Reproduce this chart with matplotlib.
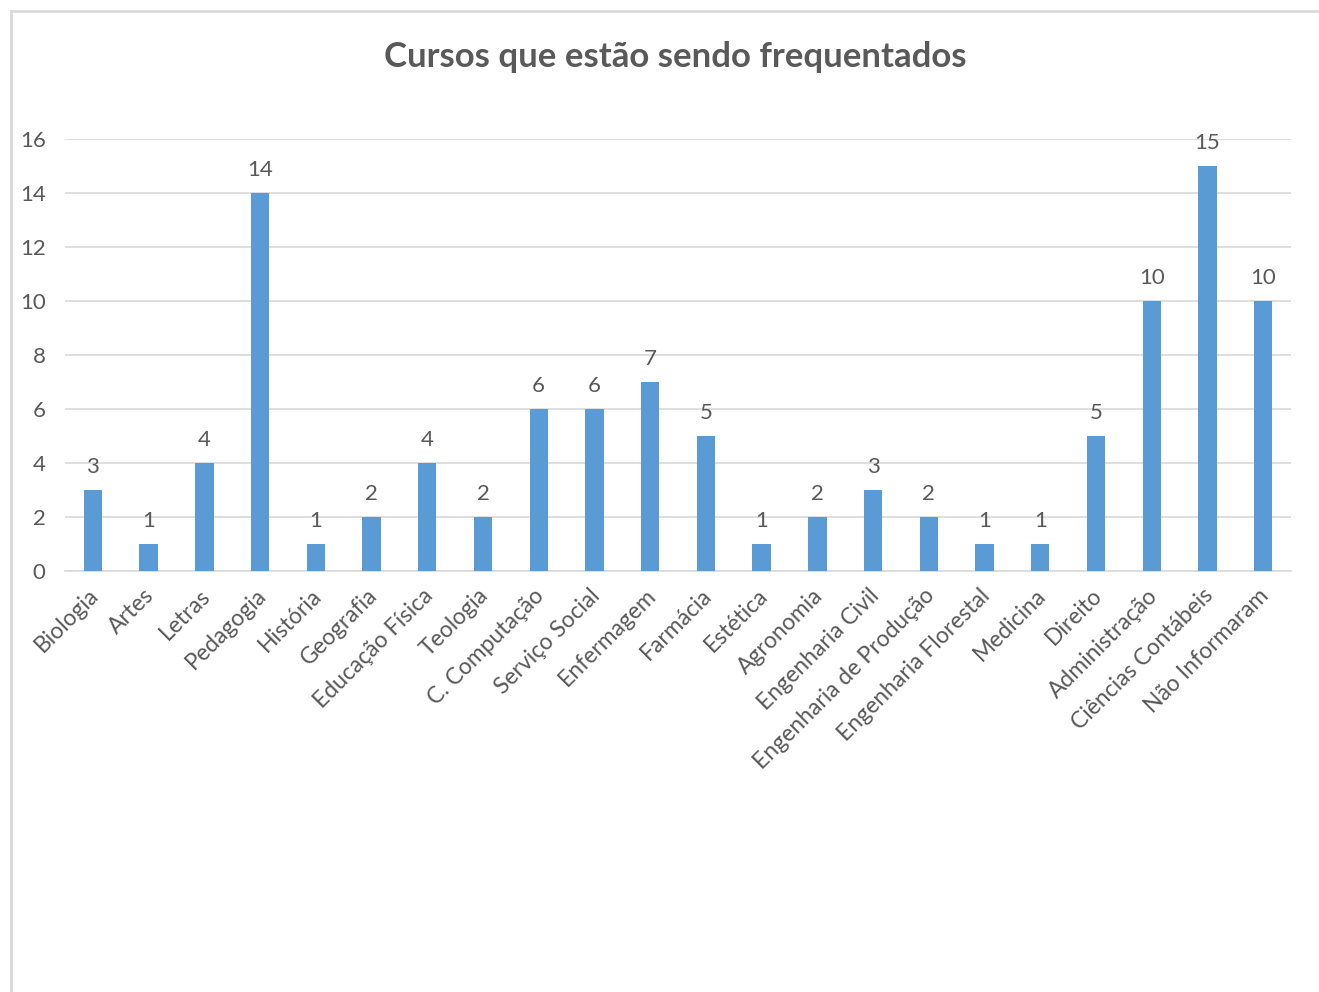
import numpy as np
import matplotlib.pyplot as plt
from matplotlib.lines import Line2D
from matplotlib.transforms import ScaledTranslation

cursos = ["Biologia", "Artes", "Letras", "Pedagogia", "História", "Geografia",
          "Educação Física", "Teologia", "C. Computação", "Serviço Social",
          "Enfermagem", "Farmácia", "Estética", "Agronomia", "Engenharia Civil",
          "Engenharia de Produção", "Engenharia Florestal", "Medicina", "Direito",
          "Administração", "Ciências Contábeis", "Não Informaram"]
valores = [3, 1, 4, 14, 1, 2, 4, 2, 6, 6, 7, 5, 1, 2, 3, 2, 1, 1, 5, 10, 15, 10]

plt.rcParams['font.family'] = ['Lato', 'DejaVu Sans']
cinza = "#595959"

fig = plt.figure(figsize=(13.19, 9.92), dpi=100)
ax = fig.add_axes([0.0493, 0.4244, 0.9295, 0.4355])

x = np.arange(len(cursos))
barras = ax.bar(x, valores, width=0.33, color="#5B9BD5", zorder=3)
ax.bar_label(barras, padding=9, fontsize=16, color=cinza)

ax.set_xlim(-0.5, len(cursos) - 0.5)
ax.set_ylim(0, 16)
ax.set_yticks(range(0, 17, 2))
ax.set_xticks(x)
ax.set_xticklabels(cursos, rotation=45, ha="right", rotation_mode="anchor",
                   fontsize=16.5, color=cinza)
ax.tick_params(axis="y", labelsize=16, labelcolor=cinza, length=0, pad=14)
ax.tick_params(axis="x", length=0, pad=10)

# desloca um pouco os rótulos do eixo x para a esquerda
desloc = ScaledTranslation(-5/100, 0, fig.dpi_scale_trans)
for lbl in ax.get_xticklabels():
    lbl.set_transform(lbl.get_transform() + desloc)

ax.grid(axis="y", color="#D9D9D9", linewidth=1.2, zorder=0)
for s in ["top", "right", "left"]:
    ax.spines[s].set_visible(False)
ax.spines["bottom"].set_color("#D9D9D9")
ax.spines["bottom"].set_linewidth(1.2)

fig.text(0.512, 0.943, "Cursos que estão sendo frequentados", ha="center",
         va="center", fontsize=25, fontweight="bold", color=cinza)

# moldura do gráfico
fig.add_artist(Line2D([11/1319, 1], [1-11/992, 1-11/992], color="#D9D9D9", lw=2))
fig.add_artist(Line2D([11/1319, 11/1319], [0, 1-11/992], color="#D9D9D9", lw=2))

fig.savefig("out.png", dpi=100)
